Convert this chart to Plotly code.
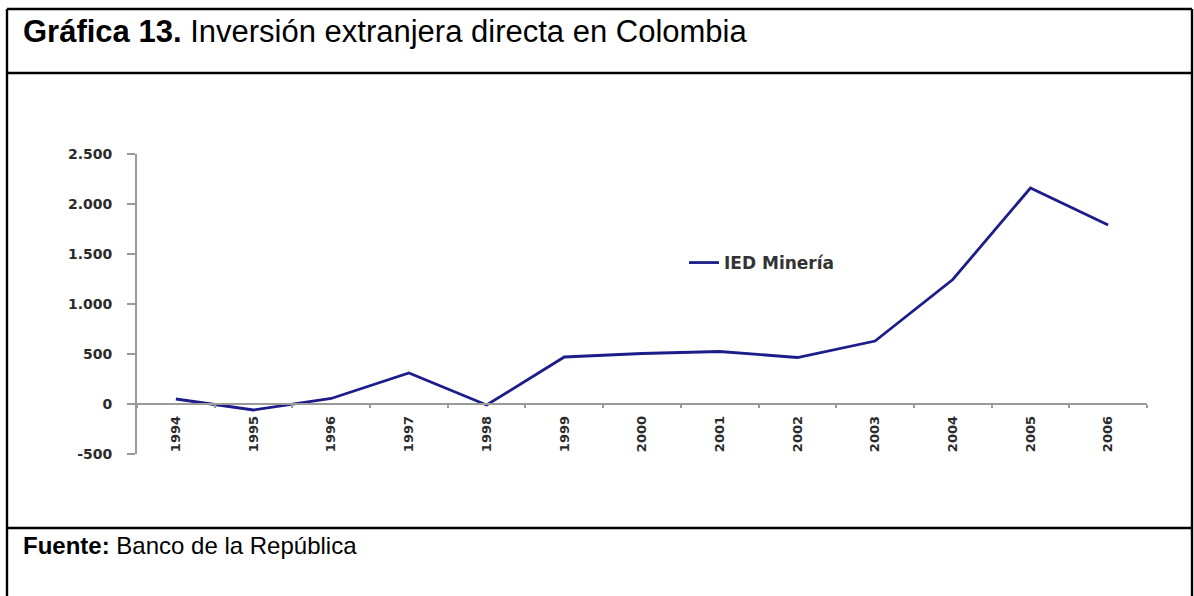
import plotly.graph_objects as go

# Foreign direct investment in mining, Colombia (US$ millions)
years = ["1994", "1995", "1996", "1997", "1998", "1999", "2000",
         "2001", "2002", "2003", "2004", "2005", "2006"]
ied_mineria = [50, -60, 55, 310, -10, 470, 505, 525, 465, 630, 1245, 2160, 1790]

y_tick_values = [-500, 0, 500, 1000, 1500, 2000, 2500]
y_tick_labels = ["-500", "0", "500", "1.000", "1.500", "2.000", "2.500"]

W, H = 1194, 596
L, R, T, B = 137, 47, 154, 142
PW, PH = W - L - R, H - T - B


def px(x):
    return (x - L) / PW


def py(y):
    return (H - B - y) / PH


AXIS_GREY = "#9a9a9a"
LABEL_FONT = dict(family="DejaVu Sans", size=14, color="#2a2a2a")

fig = go.Figure()
fig.add_trace(go.Scatter(
    x=years, y=ied_mineria, mode="lines", name="<b>IED Minería</b>",
    line=dict(color="#1c1c8a", width=2.8),
))

# Table-style frame around the figure
frame = dict(type="line", xref="paper", yref="paper",
             line=dict(color="black", width=2.4), layer="above")
fig.add_shape(x0=px(7), x1=px(7), y0=py(9), y1=py(600), **frame)
fig.add_shape(x0=px(1192), x1=px(1192), y0=py(9), y1=py(600), **frame)
fig.add_shape(x0=px(7), x1=px(1192), y0=py(9), y1=py(9), **frame)
fig.add_shape(x0=px(7), x1=px(1192), y0=py(73), y1=py(73), **frame)
fig.add_shape(x0=px(7), x1=px(1192), y0=py(528), y1=py(528), **frame)

fig.add_annotation(
    text="<b>Gráfica 13.</b> Inversión extranjera directa en Colombia",
    xref="paper", yref="paper", x=px(21), y=py(31),
    xanchor="left", yanchor="middle", showarrow=False,
    font=dict(family="Liberation Sans", size=31, color="black"),
)
fig.add_annotation(
    text="<b>Fuente:</b> Banco de la República",
    xref="paper", yref="paper", x=px(21), y=py(545),
    xanchor="left", yanchor="middle", showarrow=False,
    font=dict(family="Liberation Sans", size=24, color="black"),
)

fig.update_layout(
    width=W, height=H, autosize=False,
    margin=dict(l=L, r=R, t=T, b=B, pad=0),
    paper_bgcolor="white", plot_bgcolor="white",
    showlegend=True,
    legend=dict(
        x=px(684), y=py(263), xanchor="left", yanchor="middle",
        bgcolor="rgba(0,0,0,0)", borderwidth=0,
        font=dict(family="DejaVu Sans", size=17, color="#333333"),
    ),
    xaxis=dict(
        type="category", range=[-0.5, len(years) - 0.5],
        anchor="free", position=500 / 3000,
        showline=True, linecolor=AXIS_GREY, linewidth=1.5,
        showgrid=False, zeroline=False,
        ticks="outside", tickson="boundaries", ticklen=3,
        tickcolor=AXIS_GREY, tickwidth=1.5,
        tickangle=-90, ticklabelstandoff=6,
        tickfont=dict(family="DejaVu Sans", size=13, color="#2a2a2a"),
    ),
    yaxis=dict(
        range=[-500, 2500], tickmode="array",
        tickvals=y_tick_values, ticktext=y_tick_labels,
        showline=True, linecolor=AXIS_GREY, linewidth=2,
        showgrid=False, zeroline=False,
        ticks="outside", ticklen=8, tickcolor=AXIS_GREY, tickwidth=2,
        ticklabelstandoff=12,
        tickfont=LABEL_FONT,
    ),
)
fig.update_xaxes(tickfont_weight="bold")
fig.update_yaxes(tickfont_weight="bold")

fig.write_html("out.html")
